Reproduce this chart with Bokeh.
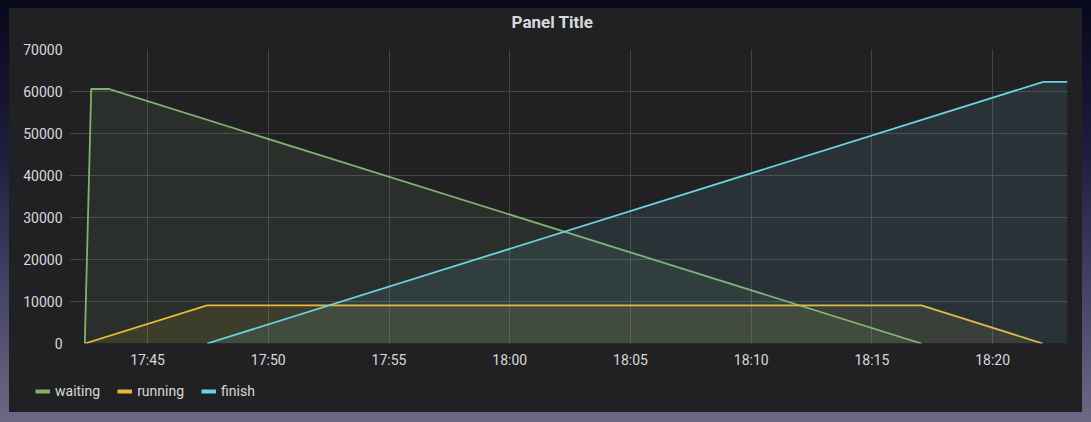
import pandas as pd
from bokeh.plotting import figure
from bokeh.models import (ColumnDataSource, FixedTicker, DatetimeTickFormatter, Legend,
                          LegendItem, Range1d, Label, Spacer)
from bokeh.layouts import column, row
from bokeh.embed import file_html
from bokeh.resources import INLINE

DAY = "2018-03-01 "

# ---- data ----
waiting_time = ["17:42:24", "17:42:40", "17:43:23", "18:17:03"]
waiting_vals = [0, 60600, 60600, 0]

running_time = ["17:42:24", "17:47:28", "18:17:03", "18:22:04"]
running_vals = [0, 9100, 9100, 0]

finish_time = ["17:47:28", "18:22:06", "18:23:06"]
finish_vals = [0, 62300, 62300]

x_tick_labels = ["17:45", "17:50", "17:55", "18:00", "18:05", "18:10", "18:15", "18:20"]
y_ticks = [0, 10000, 20000, 30000, 40000, 50000, 60000, 70000]
x_start, x_end = "17:41:46", "18:23:06"
panel_title = "Panel Title"

series = [
    ("waiting", waiting_time, waiting_vals, "#7EB26D"),
    ("running", running_time, running_vals, "#EAB839"),
    ("finish", finish_time, finish_vals, "#6ED0E0"),
]

def ts(t):
    return pd.Timestamp(DAY + t)

BG = "#212124"
TXT = "#d8d9da"
FONT = "Roboto"
NAN = float("nan")
W = 1073

def strip(h):
    f = figure(width=W, height=h, output_backend="svg", toolbar_location=None,
               x_range=Range1d(0, 1), y_range=Range1d(0, 1),
               min_border_left=0, min_border_right=0, min_border_top=0, min_border_bottom=0)
    f.frame_align = False
    f.background_fill_color = BG
    f.border_fill_color = BG
    f.outline_line_color = None
    f.axis.visible = False
    f.grid.visible = False
    return f

# header strip with the panel title
hd = strip(29)
hd.add_layout(Label(x=543, y=16, x_units="screen", y_units="screen", text=panel_title,
                    text_align="center", text_baseline="middle", text_color=TXT,
                    text_font=FONT, text_font_size="17px", text_font_style="bold"))

# main chart
p = figure(width=W, height=333, x_axis_type="datetime",
           output_backend="svg", toolbar_location=None,
           x_range=Range1d(ts(x_start), ts(x_end)), y_range=Range1d(0, 70000),
           min_border_left=60, min_border_right=15, min_border_top=12, min_border_bottom=27)
p.frame_align = False
p.background_fill_color = BG
p.border_fill_color = BG
p.outline_line_color = None

# legend strip
lg = strip(42)

items = []
for name, times, vals, color in series:
    src = ColumnDataSource(dict(x=[ts(t) for t in times], y=vals, z=[0] * len(vals)))
    p.varea(x="x", y1="z", y2="y", source=src, fill_color=color, fill_alpha=0.1)
    p.line(x="x", y="y", source=src, line_color=color, line_width=1.8)
    key = lg.line(x=[NAN], y=[NAN], line_color=color, line_width=4)
    items.append(LegendItem(label=name, renderers=[key]))

legend = Legend(items=items, orientation="horizontal", location=(26, 13),
                label_text_color=TXT, label_text_font=FONT, label_text_font_size="14px",
                glyph_width=15, glyph_height=16, label_standoff=5, spacing=17,
                padding=0, margin=0, background_fill_alpha=0, border_line_color=None)
lg.add_layout(legend, "center")

# axes
p.xaxis.ticker = FixedTicker(ticks=[ts(t).value / 1e6 for t in x_tick_labels])
p.xaxis.formatter = DatetimeTickFormatter(minutes="%H:%M", minsec="%H:%M", hourmin="%H:%M",
                                          hours="%H:%M", seconds="%H:%M")
p.yaxis.ticker = FixedTicker(ticks=y_ticks)
for ax in (p.xaxis, p.yaxis):
    ax.axis_line_color = None
    ax.major_tick_line_color = None
    ax.minor_tick_line_color = None
    ax.major_tick_out = 0
    ax.major_tick_in = 0
    ax.minor_tick_out = 0
    ax.minor_tick_in = 0
    ax.major_label_text_color = TXT
    ax.major_label_text_font = FONT
    ax.major_label_text_font_size = "14px"
p.xaxis.major_label_standoff = 8
p.yaxis.major_label_standoff = 7

p.grid.grid_line_color = "#444447"
p.grid.grid_line_width = 1

panel = column(hd, p, lg, spacing=0, styles={"background": BG})
root = column(
    Spacer(width=1091, height=8),
    row(Spacer(width=9, height=404), panel, Spacer(width=9, height=404), spacing=0),
    Spacer(width=1091, height=10),
    spacing=0,
    styles={"background": "linear-gradient(180deg, #07071a 0%, #1c1c3e 35%, #3f3f63 65%, #6b6985 100%)"},
)

open("out.html", "w").write(file_html(root, INLINE))
